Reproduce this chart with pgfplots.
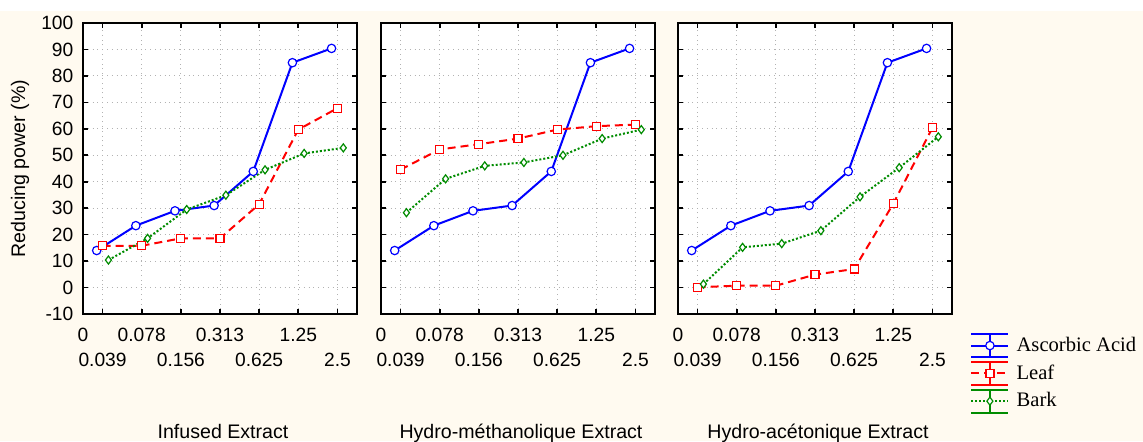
\documentclass[border=0pt]{standalone}
\usepackage{fontspec}
\setmainfont{Liberation Sans}
\newfontfamily\tnr{Liberation Serif}
\usepackage{pgfplots}
\usepackage{pgfplotstable}
\pgfplotsset{compat=1.18}

\definecolor{cream}{RGB}{255,250,240}
\definecolor{sblue}{RGB}{0,0,255}
\definecolor{sred}{RGB}{255,0,0}
\definecolor{sgreen}{RGB}{0,140,0}

% c = concentration index (0.039 ... 2.5 mg/ml)
\pgfplotstableread{
c asc  leafI barkI leafM barkM leafA barkA
1 14.0 15.8  10.4  44.6  28.3  0.1   1.3
2 23.4 15.8  18.6  52.2  41.1  0.7   15.2
3 29.0 18.6  29.5  54.2  46.0  0.7   16.6
4 31.0 18.6  34.9  56.3  47.3  4.9   21.5
5 43.9 31.5  44.5  59.7  50.0  7.0   34.3
6 85.0 59.7  50.7  61.0  56.3  31.7  45.3
7 90.4 67.8  52.8  61.6  59.7  60.4  57.0
}\rp

\pgfplotsset{
  panel/.style={
    scale only axis, width=137pt, height=145.5pt, anchor=south west,
    xmin=0.5, xmax=7.5, ymin=-10, ymax=100,
    ytick={-10,0,...,100},
    xtick={0.5,2,4,6}, xticklabels={0,0.078,0.313,1.25},
    extra x ticks={1,3,5,7}, extra x tick labels={0.039,0.156,0.625,2.5},
    extra x tick style={grid=major, xticklabel style={yshift=-12.5pt}},
    grid=major, grid style={black!30, dotted, line width=0.5pt},
    axis line style={line width=1pt},
    tick align=inside, major tick length=2.5pt,
    tick style={black, line width=0.8pt},
    xticklabel style={anchor=center, yshift=-10.5pt},
    yticklabel style={xshift=-1.3pt},
    tick label style={font=\fontsize{9.6}{11}\selectfont},
    /pgf/number format/assume math mode=true,
    axis background/.style={fill=white},
  },
  asc/.style={sblue, line width=1pt, mark=*, mark size=2.1pt,
    mark options={solid, fill=white, line width=0.6pt}},
  leaf/.style={sred, line width=1pt, dash pattern=on 4pt off 2.5pt, mark=square*,
    mark size=2pt, mark options={solid, fill=white, line width=0.6pt}},
  bark/.style={sgreen, line width=1pt, dash pattern=on 1pt off 1pt, mark=diamond*,
    mark size=2pt, mark options={solid, fill=white, line width=0.6pt}},
}

\begin{document}
\begin{tikzpicture}
\useasboundingbox (0,0) rectangle (571.5pt,220.5pt);
\fill[white] (0,0) rectangle (571.5pt,220.5pt);
\fill[cream] (0,0) rectangle (571.5pt,215pt);

% Infused
\begin{axis}[panel, at={(41.5pt,63.5pt)}]
\addplot[asc]  table[x expr=\thisrow{c}-0.15, y=asc]{\rp};
\addplot[leaf] table[x=c, y=leafI]{\rp};
\addplot[bark] table[x expr=\thisrow{c}+0.15, y=barkI]{\rp};
\end{axis}

% Hydro-methanolic
\begin{axis}[panel, at={(190.5pt,63.5pt)}, yticklabels={}]
\addplot[asc]  table[x expr=\thisrow{c}-0.15, y=asc]{\rp};
\addplot[leaf] table[x=c, y=leafM]{\rp};
\addplot[bark] table[x expr=\thisrow{c}+0.15, y=barkM]{\rp};
\end{axis}

% Hydro-acetonic
\begin{axis}[panel, at={(339pt,63.5pt)}, yticklabels={},
  legend style={at={(1.0657,-0.0636)}, anchor=north west, draw=none, fill=none,
    inner sep=0pt, row sep=1.2pt, column sep=1.6pt,
    font=\tnr\fontsize{10.3}{12}\selectfont},
  legend cell align=left,
  legend image code/.code={
    \draw[solid, line width=1pt] (0pt,5.75pt) -- (18.5pt,5.75pt)
      (0pt,-5.75pt) -- (18.5pt,-5.75pt) (9.25pt,-5.75pt) -- (9.25pt,5.75pt);
    \draw[mark repeat=2, mark phase=2] plot coordinates {(0pt,0pt) (9.25pt,0pt) (18.5pt,0pt)};
  },
]
\addplot[asc]  table[x expr=\thisrow{c}-0.15, y=asc]{\rp};
\addlegendentry{Ascorbic Acid}
\addplot[leaf] table[x=c, y=leafA]{\rp};
\addlegendentry{Leaf}
\addplot[bark] table[x expr=\thisrow{c}+0.15, y=barkA]{\rp};
\addlegendentry{Bark}
\end{axis}

\node[rotate=90, font=\fontsize{9.8}{12}\selectfont] at (10pt,136.25pt) {Reducing power (\%)};
\node[anchor=base, font=\fontsize{9.8}{12}\selectfont] at (111.5pt,1.5pt) {Infused Extract};
\node[anchor=base, font=\fontsize{9.8}{12}\selectfont] at (260.5pt,1.5pt) {Hydro-méthanolique Extract};
\node[anchor=base, font=\fontsize{9.8}{12}\selectfont] at (409pt,1.5pt) {Hydro-acétonique Extract};
\end{tikzpicture}
\end{document}
